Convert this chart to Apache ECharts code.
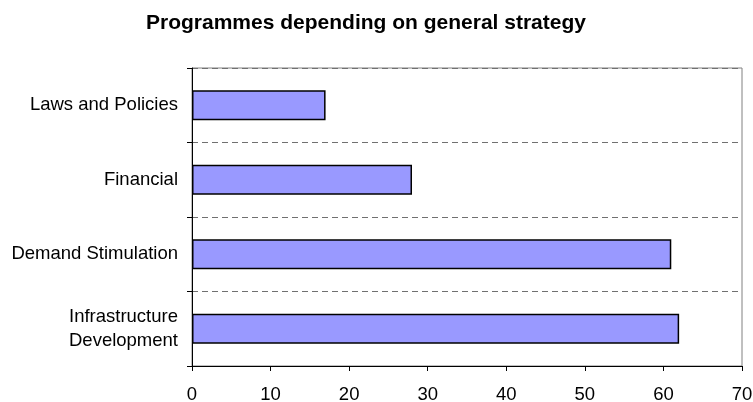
<!DOCTYPE html>
<html>
<head>
<meta charset="utf-8">
<script src="https://cdn.jsdelivr.net/npm/echarts@6/dist/echarts.min.js"></script>
<style>html,body{margin:0;padding:0;background:#fff;}#c{width:753px;height:402px;}</style>
</head>
<body>
<div id="c"></div>
<script>
var categories = ['Laws and Policies', 'Financial', 'Demand Stimulation', 'Infrastructure\nDevelopment'];
var values = [17, 28, 61, 62];
var xTicks = [0, 10, 20, 30, 40, 50, 60, 70];

var FONT = 'Liberation Sans, Arial, sans-serif';
var chart = echarts.init(document.getElementById('c'));
chart.setOption({
  backgroundColor: '#ffffff',
  animation: false,
  title: {
    text: 'Programmes depending on general strategy',
    left: 146,
    top: 13,
    padding: 0,
    textStyle: { fontFamily: FONT, fontSize: 21, fontWeight: 'bold', color: '#000' }
  },
  grid: { left: 192, right: 11, top: 68, bottom: 36, outerBoundsMode: 'none', containLabel: false, show: true, borderColor: '#808080', borderWidth: 1, backgroundColor: 'transparent' },
  xAxis: {
    type: 'value',
    min: xTicks[0],
    max: xTicks[xTicks.length - 1],
    interval: 10,
    axisLine: { show: true, lineStyle: { color: '#000', width: 1 } },
    axisTick: { show: true, length: 5, lineStyle: { color: '#000' } },
    axisLabel: { margin: 19, fontFamily: FONT, fontSize: 18.5, color: '#000' },
    splitLine: { show: false }
  },
  yAxis: {
    type: 'category',
    data: categories,
    inverse: true,
    axisLine: { show: true, lineStyle: { color: '#000', width: 1 } },
    axisTick: { show: true, length: 5, lineStyle: { color: '#000' } },
    axisLabel: { margin: 14, fontFamily: FONT, fontSize: 18.5, color: '#000', lineHeight: 23.5, align: 'right' },
    splitLine: { show: true, lineStyle: { color: '#707070', type: [6, 4], width: 1 } }
  },
  series: [{
    type: 'bar',
    data: values,
    barWidth: 30,
    itemStyle: { color: '#9999FF', borderColor: '#000', borderWidth: 1.5 }
  }]
});
</script>
</body>
</html>
